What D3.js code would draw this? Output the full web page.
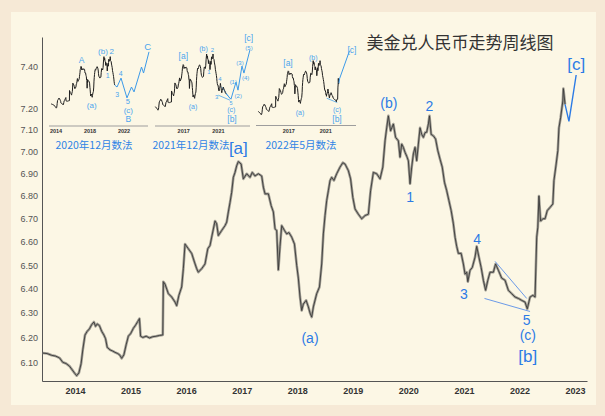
<!DOCTYPE html>
<html><head><meta charset="utf-8">
<script src="https://cdn.jsdelivr.net/npm/d3@7"></script>
<style>html,body{margin:0;padding:0;background:#f6e9d6;}svg{display:block}</style>
</head><body>
<svg id="c" width="605" height="416"></svg>
<script>
// ---- data: USD/CNY weekly (decimal year, rate) ----
const usdcny = [
[2013.42,6.137],[2013.50,6.135],[2013.58,6.128],[2013.65,6.125],[2013.72,6.118],[2013.78,6.100],[2013.84,6.095],[2013.90,6.085],[2013.95,6.070],[2014.00,6.055],
[2014.03,6.047],[2014.07,6.058],[2014.11,6.095],[2014.14,6.150],[2014.18,6.210],[2014.22,6.225],[2014.26,6.235],[2014.30,6.252],[2014.34,6.263],[2014.37,6.245],
[2014.40,6.255],[2014.44,6.248],[2014.48,6.225],[2014.52,6.210],[2014.55,6.195],[2014.58,6.160],[2014.63,6.150],[2014.68,6.145],[2014.72,6.140],[2014.77,6.135],
[2014.81,6.128],[2014.84,6.116],[2014.88,6.130],[2014.92,6.170],[2014.96,6.205],[2015.00,6.215],[2015.05,6.237],[2015.09,6.250],[2015.13,6.265],[2015.16,6.277],
[2015.18,6.205],[2015.22,6.200],[2015.28,6.205],[2015.34,6.198],[2015.40,6.203],[2015.46,6.205],[2015.52,6.208],[2015.58,6.210],[2015.59,6.430],[2015.62,6.420],
[2015.68,6.380],[2015.74,6.366],[2015.80,6.345],[2015.83,6.330],[2015.87,6.373],[2015.92,6.408],[2015.95,6.485],[2015.98,6.590],[2016.04,6.570],[2016.10,6.550],
[2016.15,6.513],[2016.19,6.485],[2016.22,6.470],[2016.28,6.485],[2016.34,6.505],[2016.39,6.570],[2016.43,6.584],[2016.46,6.620],[2016.52,6.690],[2016.55,6.678],
[2016.58,6.627],[2016.64,6.649],[2016.70,6.670],[2016.73,6.685],[2016.76,6.730],[2016.79,6.772],[2016.82,6.817],[2016.85,6.884],[2016.88,6.906],[2016.91,6.936],
[2016.94,6.955],[2016.99,6.944],[2017.03,6.877],[2017.09,6.900],[2017.15,6.884],[2017.19,6.906],[2017.24,6.890],[2017.30,6.900],[2017.36,6.890],[2017.39,6.840],
[2017.42,6.810],[2017.48,6.810],[2017.53,6.758],[2017.57,6.730],[2017.60,6.656],[2017.63,6.649],[2017.66,6.480],[2017.69,6.580],[2017.72,6.670],[2017.77,6.649],
[2017.81,6.634],[2017.85,6.640],[2017.90,6.620],[2017.95,6.590],[2017.99,6.500],[2018.02,6.445],[2018.05,6.366],[2018.08,6.310],[2018.11,6.337],[2018.16,6.352],
[2018.20,6.325],[2018.23,6.300],[2018.26,6.283],[2018.29,6.325],[2018.35,6.380],[2018.40,6.408],[2018.44,6.505],[2018.47,6.634],[2018.50,6.714],[2018.53,6.780],
[2018.56,6.824],[2018.59,6.869],[2018.62,6.884],[2018.66,6.870],[2018.71,6.900],[2018.77,6.930],[2018.82,6.950],[2018.86,6.944],[2018.92,6.914],[2018.96,6.877],
[2019.00,6.795],[2019.04,6.743],[2019.10,6.720],[2019.16,6.700],[2019.22,6.714],[2019.28,6.720],[2019.32,6.824],[2019.37,6.906],[2019.43,6.900],[2019.49,6.877],
[2019.54,6.930],[2019.58,7.050],[2019.61,7.110],[2019.64,7.166],[2019.68,7.096],[2019.73,7.128],[2019.77,7.066],[2019.82,7.050],[2019.85,6.975],[2019.88,7.035],
[2019.91,7.020],[2019.94,6.997],[2019.97,6.980],[2020.00,6.959],[2020.03,6.855],[2020.06,6.930],[2020.09,6.990],[2020.12,7.020],[2020.15,6.959],[2020.18,7.035],
[2020.21,7.110],[2020.24,7.080],[2020.27,7.066],[2020.30,7.088],[2020.33,7.090],[2020.36,7.128],[2020.38,7.166],[2020.41,7.080],[2020.45,7.073],[2020.49,7.058],
[2020.53,7.005],[2020.57,6.966],[2020.61,6.930],[2020.65,6.861],[2020.69,6.824],[2020.73,6.780],[2020.77,6.736],[2020.81,6.678],[2020.84,6.620],[2020.87,6.580],
[2020.90,6.550],[2020.95,6.550],[2020.99,6.505],[2021.02,6.462],[2021.05,6.470],[2021.07,6.430],[2021.11,6.478],[2021.15,6.490],[2021.20,6.534],[2021.23,6.580],
[2021.27,6.534],[2021.31,6.490],[2021.35,6.436],[2021.39,6.394],[2021.43,6.436],[2021.47,6.470],[2021.53,6.470],[2021.57,6.505],[2021.62,6.478],[2021.68,6.445],
[2021.74,6.436],[2021.80,6.394],[2021.86,6.380],[2021.92,6.366],[2021.98,6.360],[2022.04,6.352],[2022.10,6.345],[2022.14,6.317],[2022.19,6.366],[2022.24,6.373],
[2022.28,6.366],[2022.31,6.620],[2022.33,6.663],[2022.35,6.800],[2022.38,6.690],[2022.42,6.700],[2022.46,6.700],[2022.50,6.736],[2022.55,6.750],[2022.60,6.765],
[2022.62,6.869],[2022.66,6.944],[2022.69,7.005],[2022.71,7.110],[2022.74,7.157],[2022.78,7.236],[2022.79,7.295],[2022.82,7.220]
];
const yTicks = [6.10,6.20,6.30,6.40,6.50,6.60,6.70,6.80,6.90,7.00,7.10,7.20,7.40];
const xTicks = [2014,2015,2016,2017,2018,2019,2020,2021,2022,2023];

// main wave projections / trend lines (decimal year, rate)
const projC    = [[2022.82,7.22],[2022.89,7.14],[2023.02,7.36]];
const triLower = [[2021.37,6.36],[2022.19,6.306]];
const triUpper = [[2021.56,6.516],[2022.13,6.36]];
const mainLabels = [
 ['[a]',2016.94,7.014,17],['(a)',2018.23,6.197,14],['(b)',2019.65,7.227,14],['2',2020.38,7.213,14],
 ['1',2020.03,6.798,14],['3',2021.00,6.377,14],['4',2021.24,6.61,14],['5',2022.13,6.27,14],
 ['(c)',2022.15,6.209,14],['[b]',2022.15,6.125,17],['[c]',2023.02,7.41,17]
];

// insets
const inset1End = 2020.93, inset2End = 2021.95, inset3End = 2022.42;
const inset1Proj = [[2021.18,6.506],[2021.65,6.70],[2022.35,6.27],[2022.88,6.506],[2023.18,6.40],[2024.06,6.94],[2024.30,6.81],[2024.94,7.27]];
const inset2Proj = [[2022.45,6.266],[2023.03,6.606],[2023.26,6.446],[2023.72,6.926],[2023.95,6.786],[2024.64,7.246]];
const inset2TriLow = [[2020.99,6.346],[2022.34,6.246]];
const inset2TriUp  = [[2021.38,6.512],[2022.34,6.28]];
const inset3Proj = [[2022.48,6.79],[2023.56,7.37]];
const inset3Low  = [[2021.10,6.39],[2022.24,6.30]];
const inset1Labels = [['A',2017.02,7.093,8.5],['(a)',2018.2,6.115,8],['(b)',2019.53,7.273,8],['2',2020.55,7.273,8],['1',2020.08,6.767,7],
 ['3',2021.21,6.354,7],['4',2021.61,6.804,7],['5',2022.44,6.187,7.5],['(c)',2022.51,6.006,8],['B',2022.51,5.804,8.5],['C',2024.79,7.397,9.5]];
const inset2Labels = [['[a]',2016.95,7.126,8.5],['(a)',2018.07,6.126,7],['(b)',2019.28,7.266,7],['2',2020.32,7.246,6],['1',2019.91,6.806,6],
 ['4',2021.18,6.66,6],['3',2020.80,6.30,6],['5',2022.45,6.186,5.5],['(c)',2022.49,6.052,7],['[b]',2022.57,5.866,8.5],
 ['(1)',2022.72,6.612,6],['(2)',2023.29,6.326,6],['(3)',2023.49,6.98,6],['(4)',2024.15,6.68,6],['(5)',2024.53,7.28,6],['[c]',2024.49,7.48,8.5]];
const inset3Labels = [['[a]',2016.92,7.118,8.5],['(a)',2018.21,6.105,7],['(b)',2019.65,7.24,7],['(c)',2022.21,6.167,7],['[b]',2022.21,5.96,8.5],['[c]',2023.83,7.39,8.5]];
const inset1Ticks = [2014,2018,2022], inset2Ticks = [2017,2021], inset3Ticks = [2017,2021];
const captions = ['2020年12月数法','2021年12月数法','2022年5月数法'];
const title = '美金兑人民币走势周线图';

// ---- drawing ----
const svg = d3.select('#c');
svg.append('rect').attr('width',605).attr('height',416).attr('fill','#f6e9d6');
svg.append('rect').attr('x',11).attr('y',12).attr('width',585).attr('height',393).attr('fill','#fcf7e5');

const x = d3.scaleLinear().domain([2013.406, 2023.215]).range([42, 587]);
const y = d3.scaleLog().domain([6.026, 7.545]).range([381, 37]);
const BLUE = '#2c7be5', LBLUE = '#4ba5ee';
const FONT = '"Liberation Sans", Arial, sans-serif';

const gy = svg.append('g').attr('transform','translate(42,0)')
  .call(d3.axisLeft(y).tickValues(yTicks).tickFormat(d3.format('.2f')).tickSize(0).tickSizeOuter(0).tickPadding(4));
gy.select('.domain').attr('stroke','#555');
gy.selectAll('text').attr('font-size',9).attr('fill','#555').attr('font-family',FONT);

const gx = svg.append('g').attr('transform','translate(0,381)')
  .call(d3.axisBottom(x).tickValues(xTicks).tickFormat(d3.format('d')).tickSize(0).tickSizeOuter(0).tickPadding(7));
gx.select('.domain').attr('stroke','#555');
gx.selectAll('text').attr('font-size',9).attr('font-weight','bold').attr('fill','#333').attr('font-family',FONT);

const line = d3.line().x(d=>x(d[0])).y(d=>y(d[1]));
svg.append('path').datum(usdcny).attr('d',line).attr('fill','none').attr('stroke','#a19e94').attr('stroke-width',2.6).attr('stroke-linejoin','round');
svg.append('path').datum(usdcny).attr('d',line).attr('fill','none').attr('stroke','#3a3a3a').attr('stroke-width',0.9);

svg.append('path').datum(projC).attr('d',line).attr('fill','none').attr('stroke',BLUE).attr('stroke-width',1.4);
[triLower,triUpper].forEach(l=>svg.append('path').datum(l).attr('d',line).attr('fill','none').attr('stroke','#5a8ee8').attr('stroke-width',0.9));

svg.selectAll('text.ml').data(mainLabels).enter().append('text').attr('class','ml')
  .attr('x',d=>x(d[1])).attr('y',d=>y(d[2])).attr('text-anchor','middle').attr('dominant-baseline','central')
  .attr('font-size',d=>d[3]).attr('fill',BLUE).attr('font-family',FONT).text(d=>d[0]);

// title
svg.append('text').attr('x',460).attr('y',49).attr('text-anchor','middle').attr('font-size',17)
  .attr('font-family','"Noto Sans CJK SC", sans-serif').attr('fill','#333').text(title);

// insets
function inset(cfg){
  const ix = d3.scaleLinear().domain(cfg.xd).range(cfg.xr);
  const iy = d3.scaleLinear().domain(cfg.yd).range(cfg.yr);
  const il = d3.line().x(d=>ix(d[0])).y(d=>iy(d[1]));
  const g = svg.append('g');
  const pts = usdcny.filter(d=>d[0]>=cfg.start && d[0]<=cfg.end);
  g.append('line').attr('x1',cfg.ax[0]).attr('x2',cfg.ax[1]).attr('y1',cfg.ay).attr('y2',cfg.ay).attr('stroke','#9d9d9d').attr('stroke-width',1.2);
  g.selectAll('text.tk').data(cfg.ticks).enter().append('text').attr('class','tk')
    .attr('x',d=>ix(d)).attr('y',cfg.ay+7).attr('text-anchor','middle').attr('font-size',5.5).attr('font-weight','bold')
    .attr('fill','#333').attr('font-family',FONT).text(d=>d);
  cfg.extra.forEach(l=>g.append('path').datum(l).attr('d',il).attr('fill','none').attr('stroke',LBLUE).attr('stroke-width',0.8));
  g.append('path').datum(pts).attr('d',il).attr('fill','none').attr('stroke','#1e1e1e').attr('stroke-width',1);
  g.append('path').datum([pts[pts.length-1]].concat(cfg.proj)).attr('d',il).attr('fill','none').attr('stroke','#3b9ae9').attr('stroke-width',1);
  g.selectAll('text.lb').data(cfg.labels).enter().append('text').attr('class','lb')
    .attr('x',d=>ix(d[1])).attr('y',d=>iy(d[2])).attr('text-anchor','middle').attr('dominant-baseline','central')
    .attr('font-size',d=>d[3]).attr('fill',LBLUE).attr('font-family',FONT).text(d=>d[0]);
  g.append('text').attr('x',cfg.cap[0]).attr('y',cfg.cap[1]).attr('text-anchor','middle').attr('font-size',10.5)
    .attr('font-family','"Noto Sans CJK SC", sans-serif').attr('fill','#2f84e6').text(cfg.caption);
}
inset({xd:[2014,2022],xr:[56,124],yd:[6.05,7.18],yr:[108,56],start:2013.4,end:inset1End,ax:[49,148],ay:126,
  ticks:inset1Ticks,proj:inset1Proj,extra:[],labels:inset1Labels,cap:[94,148.5],caption:captions[0]});
inset({xd:[2016.95,2019.65],xr:[183.3,206.7],yd:[6.25,7.18],yr:[100,53.3],start:2013.7,end:inset2End,ax:[155,250],ay:126,
  ticks:inset2Ticks,proj:inset2Proj,extra:[inset2TriLow,inset2TriUp],labels:inset2Labels,cap:[191,148.5],caption:captions[1]});
inset({xd:[2016.95,2019.65],xr:[288.3,313.3],yd:[6.25,7.18],yr:[105,60],start:2013.7,end:inset3End,ax:[256,356],ay:125.5,
  ticks:inset3Ticks,proj:inset3Proj,extra:[inset3Low],labels:inset3Labels,cap:[301,148.5],caption:captions[2]});
</script>
</body></html>
